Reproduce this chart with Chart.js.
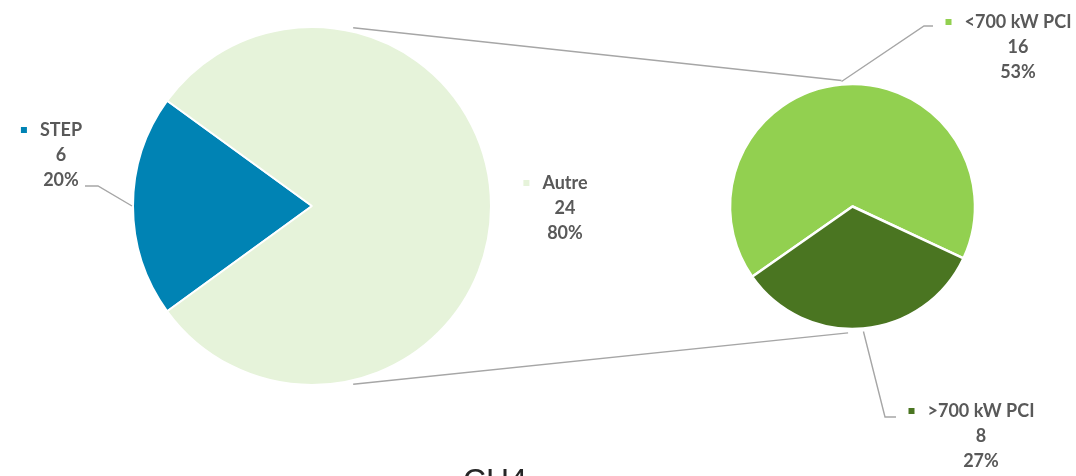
<!DOCTYPE html>
<html>
<head>
<meta charset="utf-8">
<script src="https://cdn.jsdelivr.net/npm/chart.js@4/dist/chart.umd.min.js"></script>
<style>
  body { margin: 0; background: #fff; }
  #wrap { position: relative; width: 1076px; height: 476px; overflow: hidden; }
  #wrap canvas { position: absolute; left: 0; top: 0; }
</style>
</head>
<body>
<div id="wrap">
  <canvas id="mainPie" width="1076" height="476"></canvas>
  <canvas id="subPie" width="1076" height="476"></canvas>
</div>
<script>
// main pie
const categories = ['STEP', 'Autre'];
const values = [6, 24];
// second pie: breakdown of "Autre"
const subCategories = ['<700 kW PCI', '>700 kW PCI'];
const subValues = [16, 8];
const chartTitle = 'CH4';

const mainColors = ['#0083B4', '#E6F3DA'];
const subColors = ['#92D050', '#4A7521'];
const textColor = '#595959';
const lineColor = '#A6A6A6';
const labelFont = 'bold 18px Lato';

const total = values.reduce((a, b) => a + b, 0);
const pct = v => Math.round(v / total * 100) + '%';

// label blocks: center of first text line, marker, leader elbow
const mainLabels = [
    { x: 61, y: 130, leader: [[98, 186], [85, 186]] },
    { x: 565, y: 183, leader: null }
];
const subLabels = [
    { x: 1018, y: 22, leader: [[924, 26], [933, 26]] },
    { x: 981, y: 411, leader: [[885, 417], [896, 417]] }
];

function pieOptions(padding, radius, rotation) {
    return {
        responsive: false,
        animation: false,
        rotation: rotation,
        radius: radius,
        layout: { padding: padding },
        plugins: { legend: { display: false }, tooltip: { enabled: false } }
    };
}

const mainChart = new Chart(document.getElementById('mainPie'), {
    type: 'pie',
    data: {
        labels: categories,
        datasets: [{ data: values, backgroundColor: mainColors, borderColor: '#fff', borderWidth: 2 }]
    },
    options: pieOptions({ left: 133, right: 585, top: 27, bottom: 91 }, 179, 234)
});

function arcGeom(chart, i) {
    const a = chart.getDatasetMeta(0).data[i];
    return a.getProps(['x', 'y', 'startAngle', 'endAngle', 'outerRadius'], true);
}

function onArc(g, angle, extra) {
    const r = g.outerRadius + extra;
    return [g.x + r * Math.cos(angle), g.y + r * Math.sin(angle)];
}

function polyline(ctx, pts) {
    ctx.beginPath();
    ctx.moveTo(pts[0][0], pts[0][1]);
    for (let i = 1; i < pts.length; i++) ctx.lineTo(pts[i][0], pts[i][1]);
    ctx.stroke();
}

function drawLabel(ctx, lab, name, value, percent, color) {
    ctx.font = labelFont;
    ctx.fillStyle = textColor;
    ctx.textAlign = 'center';
    ctx.textBaseline = 'alphabetic';
    const lines = [name, String(value), percent];
    lines.forEach((t, k) => ctx.fillText(t, lab.x, lab.y + 6 + k * 25));
    const w = ctx.measureText(name).width;
    ctx.fillStyle = color;
    ctx.fillRect(lab.x - w / 2 - 19, lab.y - 3, 6, 6);
}

const overlay = {
    id: 'overlay',
    afterDraw(chart) {
        const ctx = chart.ctx;
        ctx.save();
        ctx.strokeStyle = lineColor;
        ctx.lineWidth = 1.4;

        // connectors between the two pies
        const big = arcGeom(mainChart, 1);
        const small = arcGeom(chart, 0);
        const deg = Math.PI / 180;
        polyline(ctx, [onArc(big, -77 * deg, 4), onArc(small, -95 * deg, 4)]);
        polyline(ctx, [onArc(big, 77 * deg, 4), onArc(small, 92 * deg, 4)]);

        // leaders
        mainLabels.forEach((lab, i) => {
            if (!lab.leader) return;
            const g = arcGeom(mainChart, i);
            polyline(ctx, [onArc(g, (g.startAngle + g.endAngle) / 2, 1)].concat(lab.leader));
        });
        subLabels.forEach((lab, i) => {
            const g = arcGeom(chart, i);
            polyline(ctx, [onArc(g, (g.startAngle + g.endAngle) / 2, 3)].concat(lab.leader));
        });

        mainLabels.forEach((lab, i) => drawLabel(ctx, lab, categories[i], values[i], pct(values[i]), mainColors[i]));
        subLabels.forEach((lab, i) => drawLabel(ctx, lab, subCategories[i], subValues[i], pct(subValues[i]), subColors[i]));

        // title, cut by the bottom edge
        ctx.font = '32px "Liberation Sans", Arial, sans-serif';
        ctx.fillStyle = '#262626';
        ctx.textAlign = 'center';
        ctx.fillText(chartTitle, 495, 491);
        ctx.restore();
    }
};

new Chart(document.getElementById('subPie'), {
    type: 'pie',
    data: {
        labels: subCategories,
        datasets: [{ data: subValues, backgroundColor: subColors, borderColor: '#fff', borderWidth: 2.5 }]
    },
    options: pieOptions({ left: 730, right: 101, top: 84, bottom: 147 }, 122.5, 235),
    plugins: [overlay]
});
</script>
</body>
</html>
